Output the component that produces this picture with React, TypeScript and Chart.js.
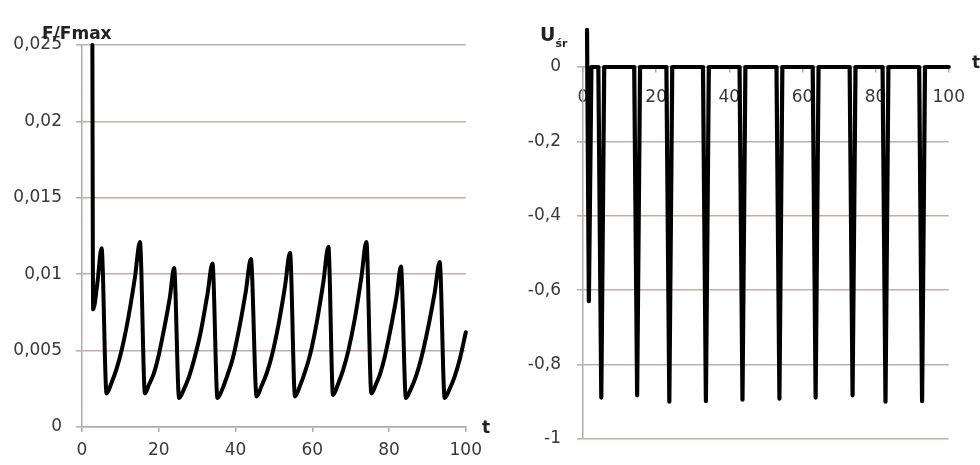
import React, { useEffect, useRef } from "react";
import { Chart, registerables } from "chart.js";
Chart.register(...registerables);

// ---- Left chart: F/Fmax vs t ----
const leftT = [
  2.7, 2.9, 4.0, 5.1,
  6.4, 7.7, 9.0, 10.4, 12.1, 13.8, 15.1,
  16.4, 17.5, 18.7, 19.9, 21.3, 22.9, 24.0,
  25.3, 26.6, 27.9, 29.3, 31.0, 32.7, 34.0,
  35.3, 36.6, 37.9, 39.3, 41.0, 42.7, 44.0,
  45.5, 46.8, 48.1, 49.5, 51.2, 52.9, 54.2,
  55.5, 56.8, 58.1, 59.5, 61.2, 62.9, 64.2,
  65.4, 66.7, 68.0, 69.4, 71.1, 72.8, 74.1,
  75.4, 76.6, 77.7, 78.9, 80.4, 82.0, 83.1,
  84.4, 85.7, 87.0, 88.4, 90.1, 91.9, 93.2,
  94.5, 95.8, 97.1, 98.5, 100.0,
];
const leftF = [
  0.025, 0.0077, 0.0094, 0.0117,
  0.0022, 0.0029, 0.0038, 0.0051, 0.0072, 0.0098, 0.0121,
  0.0022, 0.0028, 0.0035, 0.0046, 0.0063, 0.0085, 0.0104,
  0.0019, 0.0025, 0.0033, 0.0045, 0.0063, 0.0087, 0.0107,
  0.0019, 0.0025, 0.0034, 0.0045, 0.0065, 0.0089, 0.011,
  0.002, 0.0027, 0.0035, 0.0047, 0.0067, 0.0092, 0.0114,
  0.002, 0.0027, 0.0036, 0.0048, 0.0069, 0.0095, 0.0118,
  0.0021, 0.0028, 0.0037, 0.005, 0.0071, 0.0098, 0.0121,
  0.0022, 0.0028, 0.0035, 0.0046, 0.0064, 0.0086, 0.0105,
  0.0019, 0.0025, 0.0033, 0.0045, 0.0064, 0.0088, 0.0108,
  0.0019, 0.0025, 0.0033, 0.0045, 0.0062,
];
const leftYTicks = [0, 0.005, 0.01, 0.015, 0.02, 0.025];
const leftYLabels = ["0", "0,005", "0,01", "0,015", "0,02", "0,025"];

// ---- Right chart: U_śr vs t ----
const rightT = [
  1.1, 1.6, 2.3,
  4.2, 5.0, 5.8,
  14.0, 14.8, 15.6,
  22.8, 23.6, 24.4,
  32.8, 33.6, 34.4,
  42.8, 43.6, 44.4,
  52.9, 53.7, 54.5,
  62.8, 63.6, 64.4,
  72.9, 73.7, 74.5,
  81.9, 82.7, 83.5,
  91.9, 92.7, 93.5,
  100.0,
];
const rightU = [
  0.1, -0.63, 0,
  0, -0.889, 0,
  0, -0.883, 0,
  0, -0.9, 0,
  0, -0.899, 0,
  0, -0.895, 0,
  0, -0.892, 0,
  0, -0.889, 0,
  0, -0.883, 0,
  0, -0.9, 0,
  0, -0.899, 0,
  0,
];
const rightYTicks = [-1, -0.8, -0.6, -0.4, -0.2, 0];
const rightYLabels = ["-1", "-0,8", "-0,6", "-0,4", "-0,2", "0"];

const xTicks = [0, 20, 40, 60, 80, 100];
const xLabels = ["0", "20", "40", "60", "80", "100"];

const GRID = "#c6aea6";
const AXIS = "#b2aaaa";
const TEXT = "#383838";
const FONT = "DejaVu Sans";

function baseScales(
  yMin: number,
  yMax: number,
  yTicks: number[],
  yLabels: string[],
  yWidth: number,
  xPos: any,
  xPad: number,
  yPad: number
) {
  return {
    x: {
      type: "linear",
      min: 0,
      max: 100,
      position: xPos,
      afterBuildTicks: (s: any) => {
        s.ticks = xTicks.map((v) => ({ value: v }));
      },
      afterFit: (s: any) => {
        if (typeof xPos === "string") s.height = 38;
      },
      grid: { drawOnChartArea: false, drawTicks: true, tickLength: 5, color: AXIS, lineWidth: 1.5 },
      border: { display: true, color: AXIS, width: 1.5 },
      ticks: {
        callback: (_v: any, i: number) => xLabels[i],
        font: { family: FONT, size: 17 },
        color: TEXT,
        padding: xPad,
        maxRotation: 0,
        autoSkip: false,
      },
    },
    y: {
      type: "linear",
      min: yMin,
      max: yMax,
      afterBuildTicks: (s: any) => {
        s.ticks = yTicks.map((v) => ({ value: v }));
      },
      afterFit: (s: any) => {
        s.width = yWidth;
      },
      grid: { drawTicks: true, tickLength: 6, color: GRID, lineWidth: 1.6 },
      border: { display: true, color: AXIS, width: 1.5 },
      ticks: {
        callback: (_v: any, i: number) => yLabels[i],
        font: { family: FONT, size: 17 },
        color: TEXT,
        padding: yPad,
        autoSkip: false,
      },
    },
  };
}

function ChartCanvas({ which }: { which: "left" | "right" }) {
  const ref = useRef<HTMLCanvasElement | null>(null);
  useEffect(() => {
    if (!ref.current) return;
    const isLeft = which === "left";
    const pts = isLeft
      ? leftT.map((t, i) => ({ x: t, y: leftF[i] }))
      : rightT.map((t, i) => ({ x: t, y: rightU[i] }));
    const chart = new Chart(ref.current, {
      type: "line",
      data: {
        datasets: [
          {
            data: pts,
            borderColor: "#000",
            borderWidth: isLeft ? 4 : 4.2,
            pointRadius: 0,
            cubicInterpolationMode: isLeft ? "monotone" : "default",
            tension: 0,
            borderJoinStyle: "round",
            borderCapStyle: "round",
            clip: isLeft ? 3 : false,
          } as any,
        ],
      },
      options: {
        animation: false,
        responsive: false,
        events: [],
        layout: {
          padding: isLeft
            ? { left: 0, top: 45, right: 24, bottom: 0 }
            : { left: 0, top: 67, right: 22, bottom: 9 },
        },
        plugins: { legend: { display: false }, tooltip: { enabled: false } },
        scales: (isLeft
          ? baseScales(0, 0.025, leftYTicks, leftYLabels, 82, "bottom", 8, 14)
          : baseScales(-1, 0, rightYTicks, rightYLabels, 93, { y: 0 }, 15, 16)) as any,
      },
    });
    return () => chart.destroy();
  }, [which]);
  return (
    <canvas
      ref={ref}
      width={490}
      height={465}
      style={{ display: "block", width: 490, height: 465 }}
    />
  );
}

export default function App() {
  const title: React.CSSProperties = {
    position: "absolute",
    fontFamily: FONT,
    fontWeight: "bold",
    color: "#222",
    lineHeight: 1,
    whiteSpace: "nowrap",
  };
  return (
    <div
      style={{
        position: "absolute",
        left: 0,
        top: 0,
        width: 980,
        height: 465,
        background: "#fff",
        overflow: "hidden",
      }}
    >
      <div style={{ position: "absolute", left: 0, top: 0 }}>
        <ChartCanvas which="left" />
      </div>
      <div style={{ position: "absolute", left: 490, top: 0 }}>
        <ChartCanvas which="right" />
      </div>
      <div style={{ ...title, left: 42, top: 25, fontSize: 17 }}>F/Fmax</div>
      <div style={{ ...title, left: 482, top: 419, fontSize: 17 }}>t</div>
      <div style={{ ...title, left: 540, top: 25, fontSize: 19 }}>
        U<span style={{ fontSize: 11, position: "relative", top: 6 }}>śr</span>
      </div>
      <div style={{ ...title, left: 972, top: 54, fontSize: 17 }}>t</div>
    </div>
  );
}
